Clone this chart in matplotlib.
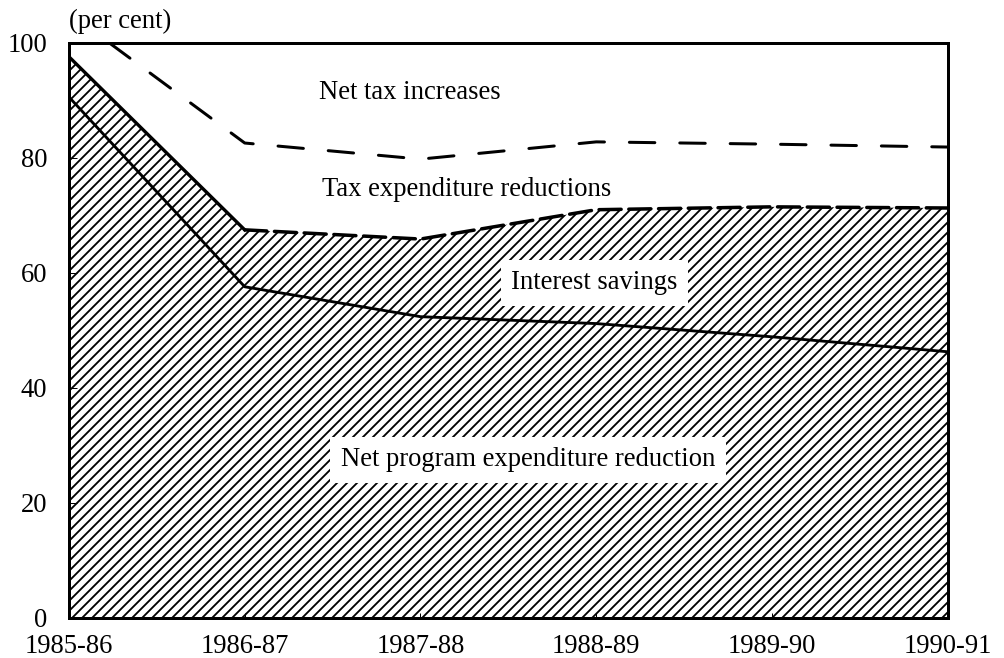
import matplotlib
matplotlib.use("Agg")
import matplotlib.pyplot as plt

# values (per cent)
years = ["1985-86", "1986-87", "1987-88", "1988-89", "1989-90", "1990-91"]
net_program = [90.6, 57.6, 52.4, 51.2, 48.9, 46.3]
interest_top = [97.6, 67.5, 65.9, 71.0, 71.5, 71.3]
tax_exp_top = [105.2, 82.6, 79.8, 82.8, 82.4, 81.9]

plt.rcParams['font.family'] = ['Liberation Serif', 'DejaVu Serif']
plt.rcParams['hatch.linewidth'] = 2.2
plt.rcParams['hatch.color'] = 'black'

DPI = 60
FS = 32
fig = plt.figure(figsize=(1004 / DPI, 658 / DPI), dpi=DPI)
ax = fig.add_axes([0.0687, 0.0608, 0.944 - 0.0687, 0.9347 - 0.0608])

x = list(range(len(years)))

# hatched area = net program + interest savings
ax.fill_between(x, 0, interest_top, facecolor='white', edgecolor='black',
                hatch='//', linewidth=0, zorder=1)

# boundary lines
ax.plot(x, net_program, color='black', lw=3.4, solid_joinstyle='round', zorder=3)
ax.plot(x[:2], interest_top[:2], color='black', lw=4.0, zorder=3)
ax.plot(x[1:], interest_top[1:], color='black', lw=4.2, dashes=(6.3, 2.2),
        dash_capstyle='round', zorder=3)
ax.plot(x, tax_exp_top, color='black', lw=3.6, dashes=(8.5, 8.3),
        dash_capstyle='round', zorder=3)

ax.set_xlim(0, 5)
ax.set_ylim(0, 100)
ax.set_xticks(x)
ax.set_xticklabels(years)
ax.set_yticks([0, 20, 40, 60, 80, 100])
ax.tick_params(axis='x', direction='in', length=6, width=1.2, pad=19, labelsize=FS)
ax.tick_params(axis='y', direction='in', length=10, width=1.2, pad=26, labelsize=FS)
for s in ax.spines.values():
    s.set_linewidth(3.6)
    s.set_zorder(5)

ax.text(0, 1.037, "(per cent)", transform=ax.transAxes, ha='left', va='center',
        fontsize=FS)

ax.text(1.94, 91.3, "Net tax increases", ha='center', va='center', fontsize=FS, zorder=4)
ax.text(2.26, 74.6, "Tax expenditure reductions", ha='center', va='center',
        fontsize=FS, zorder=4)
ax.text(2.99, 58.3, "Interest savings", ha='center', va='center', fontsize=FS, zorder=4,
        bbox=dict(boxstyle='square,pad=0.4', facecolor='white', edgecolor='none'))
ax.text(2.61, 27.5, "Net program expenditure reduction", ha='center', va='center',
        fontsize=FS, zorder=4,
        bbox=dict(boxstyle='square,pad=0.4', facecolor='white', edgecolor='none'))

fig.savefig("out.png", dpi=DPI, facecolor='white')
